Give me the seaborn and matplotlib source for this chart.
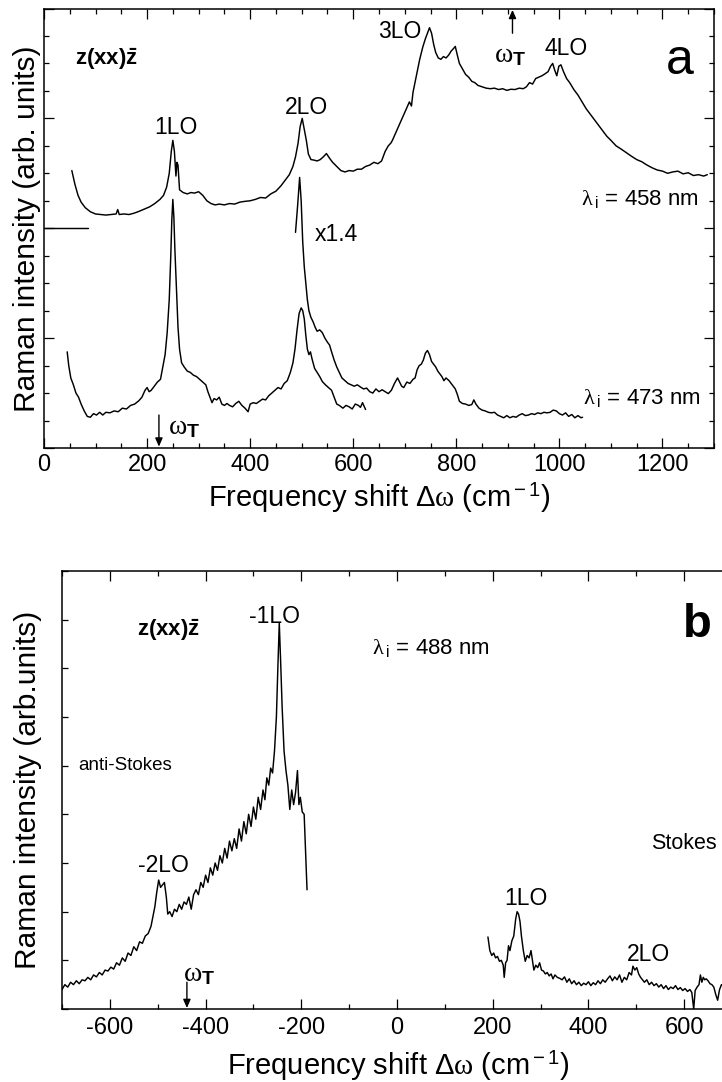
import numpy as np
import pandas as pd
import matplotlib
matplotlib.use("Agg")
import matplotlib.pyplot as plt
from matplotlib.ticker import MultipleLocator, NullFormatter
import seaborn as sns

# ---------------- data ----------------
# Panel a, lambda_i = 458 nm
a458_x = [54, 60, 66, 72, 80, 90, 100, 110, 120, 130, 140, 143, 146, 155, 165, 175, 185, 195, 205, 215,
          225, 232, 238, 243, 247, 250, 253, 256, 258, 260, 263, 270, 278, 285, 292, 300, 308, 316, 324, 332,
          340, 350, 360, 370, 380, 390, 400, 410, 420, 430, 440, 450, 460, 468, 476, 483, 488, 493, 497, 501,
          505, 509, 513, 518, 524, 530, 536, 542, 548, 554, 560, 568, 576, 584, 592, 600, 608, 616, 624, 632,
          640, 648, 655, 662, 668, 673, 676, 709, 713, 716, 722, 729, 735, 740, 745, 748, 752, 756, 760, 765,
          770, 775, 780, 785, 790, 795, 798, 802, 806, 812, 818, 824, 830, 836, 842, 850, 858, 866, 874, 882,
          890, 898, 906, 914, 922, 930, 936, 942, 948, 954, 960, 966, 972, 978, 983, 987, 991, 995, 999, 1003,
          1008, 1014, 1020, 1028, 1036, 1044, 1052, 1060, 1068, 1076, 1084, 1092, 1100, 1110, 1120, 1130, 1140,
          1150, 1160, 1170, 1180, 1190, 1200, 1210, 1220, 1230, 1240, 1250, 1260, 1270, 1280, 1287]
a458_y = [10.1, 9.6, 9.2, 8.95, 8.75, 8.6, 8.52, 8.5, 8.48, 8.5, 8.52, 8.68, 8.5, 8.52, 8.5, 8.55, 8.62, 8.7, 8.78, 8.9,
          9.05, 9.2, 9.5, 10.0, 10.8, 11.2, 10.8, 9.9, 10.4, 10.3, 9.4, 9.3, 9.25, 9.3, 9.28, 9.33, 9.2, 9.0, 8.9, 8.85,
          8.88, 8.85, 8.9, 8.88, 8.95, 8.98, 9.0, 9.05, 9.12, 9.1, 9.25, 9.35, 9.55, 9.75, 9.95, 10.25, 10.6, 11.1, 11.7, 12.0,
          11.6, 11.2, 10.7, 10.5, 10.48, 10.45, 10.5, 10.6, 10.72, 10.55, 10.4, 10.25, 10.1, 10.05, 10.1, 10.08, 10.15, 10.15, 10.25, 10.3,
          10.4, 10.35, 10.45, 10.8, 11.0, 11.1, 11.2, 12.6, 12.45, 12.95, 13.5, 14.15, 14.6, 14.9, 15.15, 15.3, 15.1, 14.7, 14.4, 14.2,
          14.15, 14.25, 14.2, 14.3, 14.45, 14.55, 14.62, 14.3, 14.0, 13.8, 13.6, 13.5, 13.35, 13.3, 13.2, 13.15, 13.1, 13.08, 13.1, 13.05,
          13.08, 13.02, 13.06, 13.05, 13.1, 13.08, 13.15, 13.3, 13.25, 13.45, 13.5, 13.55, 13.62, 13.7, 13.9, 14.0, 13.75, 13.55, 13.9, 13.95,
          13.7, 13.45, 13.3, 13.05, 12.85, 12.6, 12.35, 12.15, 11.95, 11.75, 11.55, 11.35, 11.2, 11.0, 10.88, 10.75, 10.62,
          10.5, 10.42, 10.3, 10.2, 10.12, 10.08, 10.0, 10.05, 10.08, 9.98, 10.02, 9.92, 9.95, 9.9, 9.95]

# Panel a, lambda_i = 473 nm
a473_x = [45, 48, 52, 57, 62, 67, 72, 78, 84, 90, 96, 102, 108, 114, 120, 128, 136, 144, 152, 160,
          168, 176, 184, 190, 196, 200, 204, 208, 214, 220, 226, 231, 235, 239, 243, 246, 248, 250, 252, 254,
          257, 260, 263, 267, 272, 278, 284, 290, 296, 302, 308, 314, 318, 322, 326, 330, 335, 340, 345, 350,
          355, 360, 366, 372, 378, 384, 390, 396, 400, 406, 412, 418, 424, 430, 436, 442, 448, 454, 460, 466,
          472, 478, 483, 487, 491, 495, 499, 502, 505, 508, 511, 514, 517, 520, 525, 530, 535, 540, 546, 552,
          558, 563, 568, 573, 580, 586, 592, 598, 604, 610, 614, 618, 624]
a473_y = [3.5, 3.0, 2.55, 2.3, 2.0, 1.85, 1.6, 1.35, 1.15, 1.12, 1.25, 1.2, 1.3, 1.2, 1.3, 1.28, 1.35, 1.32, 1.45, 1.42,
          1.55, 1.6, 1.72, 1.85, 2.1, 2.2, 2.05, 2.1, 2.25, 2.4, 2.5, 3.0, 3.4, 4.2, 5.4, 7.0, 8.3, 9.05, 8.4, 7.2,
          5.8, 4.4, 3.6, 3.1, 2.95, 2.8, 2.75, 2.65, 2.6, 2.5, 2.4, 2.3, 2.05, 1.85, 1.65, 1.8, 1.75, 1.85, 1.6, 1.55,
          1.62, 1.55, 1.5, 1.62, 1.7, 1.55, 1.45, 1.32, 1.6, 1.65, 1.62, 1.7, 1.78, 1.75, 1.9, 2.0, 2.1, 2.2, 2.15, 2.35,
          2.45, 2.75, 3.1, 3.6, 4.3, 4.9, 5.1, 5.0, 4.7, 4.1, 3.6, 3.4, 3.5, 3.25, 2.9, 2.75, 2.6, 2.42, 2.3, 2.2,
          2.1, 1.85, 1.6, 1.55, 1.45, 1.55, 1.5, 1.42, 1.6, 1.55, 1.48, 1.65, 1.4]

# Panel a, lambda_i = 473 nm, x1.4
a473s_x = [488, 492, 496, 499, 502, 505, 508, 511, 514, 518, 522, 526, 530, 535, 540, 545, 550, 554, 558, 563,
           568, 573, 578, 584, 590, 596, 602, 608, 614, 620, 626, 632, 638, 644, 650, 656, 662, 668, 674, 680,
           686, 690, 694, 698, 704, 710, 716, 720, 724, 728, 732, 736, 740, 744, 748, 752, 756, 760, 764, 768,
           772, 776, 780, 786, 792, 798, 802, 806, 812, 818, 824, 830, 834, 838, 844, 850, 856, 862, 868, 874,
           880, 886, 892, 898, 904, 910, 916, 922, 928, 934, 940, 946, 952, 958, 964, 970, 976, 982, 988, 994,
           1000, 1006, 1012, 1018, 1024, 1030, 1036, 1042, 1045]
a473s_y = [7.85, 8.8, 9.85, 9.0, 7.5, 6.6, 6.0, 5.4, 5.0, 4.75, 4.6, 4.4, 4.25, 4.3, 4.2, 4.0, 3.85, 3.75, 3.5, 3.2,
           2.95, 2.75, 2.55, 2.45, 2.35, 2.3, 2.25, 2.3, 2.22, 2.15, 2.18, 2.05, 2.0, 2.15, 2.05, 2.12, 2.05, 1.98, 2.1, 2.35,
           2.55, 2.4, 2.25, 2.2, 2.4, 2.35, 2.5, 2.55, 2.85, 3.0, 3.05, 3.2, 3.45, 3.55, 3.4, 3.15, 3.05, 2.95, 2.8, 2.7,
           2.6, 2.45, 2.55, 2.45, 2.3, 2.15, 1.95, 1.7, 1.62, 1.6, 1.55, 1.58, 1.75, 1.6, 1.45, 1.38, 1.35, 1.3, 1.28, 1.3,
           1.2, 1.15, 1.1, 1.18, 1.1, 1.15, 1.12, 1.2, 1.25, 1.18, 1.2, 1.25, 1.22, 1.28, 1.25, 1.3, 1.28, 1.3, 1.38, 1.35,
           1.25, 1.2, 1.28, 1.15, 1.22, 1.1, 1.18, 1.1, 1.12]

# Panel a, baseline marker of the upper spectrum
marker_x = [0, 85]
marker_y = [8, 8]

# Panel b, anti-Stokes side
bas_x = [-700, -694, -688, -682, -676, -670, -664, -658, -652, -646, -640, -634, -628, -622, -616, -610, -604, -598,
         -592, -586, -580, -574, -568, -562, -556, -550, -544, -538, -532, -526, -520, -514, -510, -506, -502, -498,
         -494, -490, -486, -482, -479, -475, -470, -465, -460, -455, -450, -445, -440, -435, -430, -425, -420, -415,
         -410, -405, -400, -395, -390, -385, -380, -375, -370, -365, -360, -355, -350, -345, -340, -335, -330, -325,
         -320, -315, -310, -305, -300, -295, -290, -285, -280, -276, -272, -268, -264, -260, -256, -252, -249, -246,
         -243, -240, -236, -232, -228, -224, -220, -216, -212, -208, -205, -202, -198, -194, -188]
bas_y = [0.4, 0.5, 0.45, 0.55, 0.5, 0.58, 0.52, 0.6, 0.58, 0.65, 0.6, 0.7, 0.66, 0.75, 0.7, 0.8, 0.78, 0.86,
         0.82, 0.95, 0.9, 1.05, 0.98, 1.15, 1.1, 1.28, 1.2, 1.38, 1.35, 1.5, 1.55, 1.7, 1.9, 2.1, 2.4, 2.65,
         2.5, 2.55, 2.6, 2.3, 1.95, 2.0, 1.9, 2.05, 2.0, 2.15, 2.05, 2.2, 2.15, 2.3, 2.05, 2.35, 2.45, 2.35,
         2.6, 2.5, 2.75, 2.6, 2.9, 2.75, 3.0, 2.85, 3.15, 3.0, 3.3, 3.1, 3.45, 3.25, 3.5, 3.3, 3.7, 3.45,
         3.85, 3.6, 4.0, 3.75, 4.15, 3.9, 4.35, 4.1, 4.5, 4.3, 4.75, 4.6, 4.95, 4.85, 5.3, 6.0, 7.0, 7.93,
         7.1, 6.2, 5.3, 4.9, 4.6, 4.1, 4.5, 4.2, 4.45, 4.9, 4.2, 4.35, 4.05, 4.0, 2.45]

# Panel b, Stokes side
bs_x = [190, 194, 198, 202, 206, 210, 214, 218, 222, 224, 227, 230, 233, 236, 240, 244, 248, 251, 254, 257,
        260, 264, 268, 272, 276, 280, 283, 286, 290, 294, 298, 302, 306, 310, 314, 318, 322, 326, 330, 335,
        340, 345, 350, 355, 360, 365, 370, 375, 380, 385, 390, 395, 400, 405, 410, 415, 420, 425, 430, 435,
        440, 445, 450, 455, 460, 465, 470, 475, 480, 485, 490, 493, 497, 501, 505, 509, 513, 517, 522, 527,
        532, 537, 542, 547, 552, 557, 562, 567, 572, 577, 582, 587, 592, 597, 602, 607, 612, 616, 620, 623,
        627, 631, 634, 637, 640, 643, 646, 650, 654, 658, 662, 666, 670, 674, 678, 684, 690, 696]
bs_y = [1.48, 1.2, 1.1, 1.15, 1.05, 1.08, 0.98, 1.0, 0.9, 0.65, 0.95, 1.0, 1.3, 1.2, 1.4, 1.5, 1.85, 2.0, 1.95, 1.8,
        1.5, 1.2, 0.98, 1.1, 1.05, 1.2, 1.0, 0.8, 0.9, 0.85, 0.95, 0.8, 0.78, 0.72, 0.75, 0.68, 0.72, 0.62, 0.7, 0.65,
        0.63, 0.6, 0.66, 0.55, 0.62, 0.52, 0.58, 0.5, 0.55, 0.48, 0.53, 0.5, 0.56, 0.48, 0.54, 0.5, 0.58, 0.52, 0.6, 0.55,
        0.62, 0.68, 0.58, 0.66, 0.6, 0.7, 0.55, 0.65, 0.6, 0.75, 0.7, 0.88, 0.8, 0.85, 0.72, 0.65, 0.6, 0.55, 0.6, 0.5,
        0.55, 0.48, 0.52, 0.45, 0.5, 0.42, 0.48, 0.4, 0.45, 0.42, 0.48, 0.4, 0.44, 0.38, 0.42, 0.36, 0.4, 0.34, 0.0, 0.38,
        0.45, 0.5, 0.7, 0.55, 0.65, 0.6, 0.62, 0.58, 0.52, 0.5, 0.45, 0.3, 0.18, 0.4, 0.5, 0.45, 0.5, 0.48]

xticks_a = [0, 200, 400, 600, 800, 1000, 1200]
xticks_b = [-600, -400, -200, 0, 200, 400, 600]

# ---------------- style ----------------
sns.set_style("ticks")
plt.rcParams["font.family"] = ["Liberation Sans", "DejaVu Sans"]
plt.rcParams["mathtext.fontset"] = "custom"
plt.rcParams["mathtext.rm"] = "Liberation Sans"
plt.rcParams["mathtext.it"] = "Liberation Serif"
plt.rcParams["mathtext.bf"] = "Liberation Sans:bold"
plt.rcParams["axes.linewidth"] = 1.1
plt.rcParams["axes.unicode_minus"] = False
for key in ["text.color", "axes.labelcolor", "axes.edgecolor", "xtick.color", "ytick.color"]:
    plt.rcParams[key] = "black"

fig = plt.figure(figsize=(7.22, 10.82), dpi=100)
axa = fig.add_axes([44 / 722, (1082 - 448) / 1082, 670 / 722, 439.5 / 1082])
axb = fig.add_axes([62 / 722, (1082 - 1009) / 1082, 670 / 722, 438 / 1082])

lw = 1.05
for xs, ys in [(a458_x, a458_y), (a473_x, a473_y), (a473s_x, a473s_y), (marker_x, marker_y)]:
    df = pd.DataFrame({"x": xs, "y": ys})
    sns.lineplot(data=df, x="x", y="y", ax=axa, color="black", lw=lw, sort=False,
                 estimator=None, legend=False)
for xs, ys in [(bas_x, bas_y), (bs_x, bs_y)]:
    df = pd.DataFrame({"x": xs, "y": ys})
    sns.lineplot(data=df, x="x", y="y", ax=axb, color="black", lw=lw, sort=False,
                 estimator=None, legend=False)

lo_fs = 16.5
lam_fs = 16

# ---------------- axes a ----------------
axa.set_xlim(0, 1300)
axa.set_ylim(0, 16)
axa.set_xticks(xticks_a)
axa.xaxis.set_minor_locator(MultipleLocator(50))
axa.yaxis.set_major_locator(MultipleLocator(4))
axa.yaxis.set_minor_locator(MultipleLocator(1))
axa.yaxis.set_major_formatter(NullFormatter())
axa.tick_params(which="both", direction="in", top=True, right=True, width=0.9, colors="black")
axa.tick_params(which="major", length=7, labelsize=17, pad=4)
axa.tick_params(which="minor", length=3.6)
axa.set_xlabel(r"Frequency shift $\Delta\omega$ (cm$^{\rm -1}$)", fontsize=21)
axa.set_ylabel("Raman intensity (arb. units)", fontsize=21.5)
axa.xaxis.set_label_coords(0.5, -0.075)
axa.yaxis.set_label_coords(-0.004, 0.5)

axa.text(60, 14.16, r"$\mathbf{z(xx)\bar{z}}$", fontsize=16, ha="left", va="center")
axa.text(256, 11.68, "1LO", fontsize=lo_fs, ha="center", va="center")
axa.text(510, 12.4, "2LO", fontsize=lo_fs, ha="center", va="center")
axa.text(690, 15.15, "3LO", fontsize=lo_fs, ha="center", va="center")
axa.text(1013, 14.56, "4LO", fontsize=lo_fs, ha="center", va="center")
axa.text(905, 14.3, r"$\omega_{\mathbf{T}}$", fontsize=20, ha="center", va="center")
axa.text(1234, 14.1, "a", fontsize=36, ha="center", va="center")
axa.text(1157, 9.05, r"$\lambda\,_{\rm i}$ = 458 nm", fontsize=lam_fs, ha="center", va="center")
axa.text(1161, 1.82, r"$\lambda\,_{\rm i}$ = 473 nm", fontsize=lam_fs, ha="center", va="center")
axa.text(568, 7.77, "x1.4", fontsize=lo_fs, ha="center", va="center")
axa.text(272, 0.75, r"$\omega_{\mathbf{T}}$", fontsize=20, ha="center", va="center")
arrow = dict(arrowstyle="-|>,head_length=0.5,head_width=0.22", color="black", lw=1.0,
             shrinkA=0, shrinkB=0)
axa.annotate("", xy=(909, 15.95), xytext=(909, 15.1), arrowprops=arrow)
axa.annotate("", xy=(223, 0.05), xytext=(223, 1.2), arrowprops=arrow)

# ---------------- axes b ----------------
axb.set_xlim(-700, 700)
axb.set_ylim(0, 9)
axb.set_xticks(xticks_b)
axb.xaxis.set_minor_locator(MultipleLocator(100))
axb.yaxis.set_major_locator(MultipleLocator(1))
axb.yaxis.set_major_formatter(NullFormatter())
axb.tick_params(which="both", direction="in", top=True, right=True, width=0.9, colors="black")
axb.tick_params(axis="x", which="major", length=7, labelsize=17, pad=6)
axb.tick_params(axis="x", which="minor", length=3.6)
axb.tick_params(axis="y", which="major", length=4.3)
axb.set_xlabel(r"Frequency shift $\Delta\omega$ (cm$^{\rm -1}$)", fontsize=21)
axb.set_ylabel("Raman intensity (arb.units)", fontsize=21.5)
axb.xaxis.set_label_coords((398 - 62) / 670, -0.092)
axb.yaxis.set_label_coords(-0.03, 0.5)

axb.text(-478, 7.78, r"$\mathbf{z(xx)\bar{z}}$", fontsize=16, ha="center", va="center")
axb.text(-257, 8.07, "-1LO", fontsize=lo_fs, ha="center", va="center")
axb.text(71, 7.41, r"$\lambda\,_{\rm i}$ = 488 nm", fontsize=lam_fs, ha="center", va="center")
axb.text(627, 7.89, "b", fontsize=34, fontweight="bold", ha="center", va="center")
axb.text(-667, 5.01, "anti-Stokes", fontsize=13.5, ha="left", va="center")
axb.text(-487, 2.94, "-2LO", fontsize=lo_fs, ha="center", va="center")
axb.text(-413, 0.72, r"$\omega_{\mathbf{T}}$", fontsize=20, ha="center", va="center")
axb.text(530, 3.41, "Stokes", fontsize=15.5, ha="left", va="center")
axb.text(270, 2.28, "1LO", fontsize=lo_fs, ha="center", va="center")
axb.text(525, 1.11, "2LO", fontsize=lo_fs, ha="center", va="center")
axb.annotate("", xy=(-439, 0.02), xytext=(-439, 0.55), arrowprops=arrow)

fig.savefig("out.png", dpi=100)
